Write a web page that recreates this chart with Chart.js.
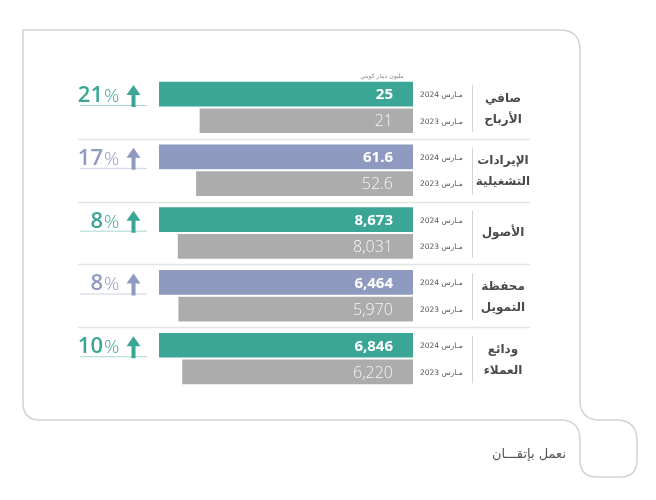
<!DOCTYPE html>
<html lang="ar">
<head>
<meta charset="utf-8">
<script src="https://cdn.jsdelivr.net/npm/chart.js@4.4.1/dist/chart.umd.min.js"></script>
<style>
html, body { margin: 0; padding: 0; background: #ffffff; overflow: hidden; }
#wrap { position: relative; width: 656px; height: 500px; }
</style>
</head>
<body>
<div id="wrap"><canvas id="kpiChart" width="656" height="500"></canvas></div>
<script>
// Data
const groups = [['صافي', 'الأرباح'], ['الإيرادات', 'التشغيلية'], ['الأصول'], ['محفظة', 'التمويل'], ['ودائع', 'العملاء']];
const values2024 = [25, 61.6, 8673, 6464, 6846];
const values2023 = [21, 52.6, 8031, 5970, 6220];
const changes = [21, 17, 8, 8, 10];
const periods = ['مـارس 2024', 'مـارس 2023'];
const unitLabel = 'مليون دينار كويتي';
const tagline = 'نعمل بإتقـــان';

const TEAL = '#3ba696';
const PURPLE = '#8e9abf';
const GRAY = '#acacac';
const ARABIC = '"DejaVu Sans", sans-serif';
const LATIN = '"Open Sans", "Noto Sans", sans-serif';

function fmt(v) {
    return v.toLocaleString('en-US', { maximumFractionDigits: 1 });
}

function accentFor(i) {
    return i % 2 === 0 ? TEAL : PURPLE;
}

// one pair of bars per group, each group on its own hidden scale
const datasets = [];
const scales = {
    y: { type: 'category', display: false, grid: { display: false } }
};
groups.forEach((g, i) => {
    [values2024, values2023].forEach((vals, k) => {
        datasets.push({
            label: periods[k],
            data: groups.map((_, j) => (j === i ? vals[i] : null)),
            backgroundColor: k === 0 ? accentFor(i) : GRAY,
            borderWidth: 0,
            xAxisID: 'x' + i,
            skipNull: true,
            categoryPercentage: 0.85,
            barPercentage: 0.925
        });
    });
    scales['x' + i] = {
        type: 'linear',
        display: false,
        reverse: true,
        min: 0,
        max: values2024[i],
        grid: { display: false }
    };
});

function drawFrame(ctx) {
    ctx.save();
    ctx.strokeStyle = '#d2d2d2';
    ctx.lineWidth = 1.5;
    ctx.beginPath();
    ctx.moveTo(23, 30);
    ctx.lineTo(560, 30);
    ctx.quadraticCurveTo(580, 30, 580, 50);
    ctx.lineTo(580, 400);
    ctx.quadraticCurveTo(580, 420, 600, 420);
    ctx.lineTo(616, 420);
    ctx.quadraticCurveTo(637, 420, 637, 441);
    ctx.lineTo(637, 460);
    ctx.quadraticCurveTo(637, 477, 620, 477);
    ctx.lineTo(597, 477);
    ctx.quadraticCurveTo(580, 477, 580, 460);
    ctx.lineTo(580, 440);
    ctx.quadraticCurveTo(580, 420, 560, 420);
    ctx.lineTo(40, 420);
    ctx.quadraticCurveTo(23, 420, 23, 403);
    ctx.closePath();
    ctx.stroke();
    ctx.restore();
}

const decorPlugin = {
    id: 'decor',
    beforeDatasetsDraw(chart) {
        const ctx = chart.ctx;
        drawFrame(ctx);

        ctx.save();
        groups.forEach((g, i) => {
            const top = chart.getDatasetMeta(2 * i).data[i];
            const bottom = chart.getDatasetMeta(2 * i + 1).data[i];
            const topEdge = top.y - top.height / 2;
            const bottomEdge = bottom.y + bottom.height / 2;

            // vertical rule beside the group name
            ctx.strokeStyle = '#d4d4d4';
            ctx.lineWidth = 1;
            ctx.beginPath();
            ctx.moveTo(472.5, topEdge + 3);
            ctx.lineTo(472.5, bottomEdge - 1);
            ctx.stroke();

            // horizontal rule between groups
            if (i < groups.length - 1) {
                const next = chart.getDatasetMeta(2 * i + 2).data[i + 1];
                const y = Math.round((bottomEdge + next.y - next.height / 2) / 2) + 0.5;
                ctx.strokeStyle = '#e4e4e4';
                ctx.lineWidth = 1.5;
                ctx.beginPath();
                ctx.moveTo(78, y);
                ctx.lineTo(530, y);
                ctx.stroke();
            }
        });
        ctx.restore();
    },
    afterDatasetsDraw(chart) {
        const ctx = chart.ctx;
        ctx.save();

        // unit caption
        ctx.direction = 'rtl';
        ctx.textAlign = 'center';
        ctx.textBaseline = 'middle';
        ctx.fillStyle = '#8a8a8a';
        ctx.font = '6px ' + ARABIC;
        ctx.fillText(unitLabel, 382, 76);

        groups.forEach((g, i) => {
            const accent = accentFor(i);
            const rows = [chart.getDatasetMeta(2 * i).data[i], chart.getDatasetMeta(2 * i + 1).data[i]];
            const vals = [values2024[i], values2023[i]];

            rows.forEach((el, k) => {
                // value inside the bar
                ctx.direction = 'ltr';
                ctx.textAlign = 'right';
                ctx.textBaseline = 'middle';
                ctx.fillStyle = k === 0 ? '#ffffff' : '#f6f6f6';
                ctx.font = (k === 0 ? '700 15px ' : '300 16px ') + LATIN;
                ctx.fillText(fmt(vals[k]), el.base - 20, el.y + 1);

                // period label
                ctx.direction = 'rtl';
                ctx.textAlign = 'left';
                ctx.fillStyle = '#555555';
                ctx.font = '7.5px ' + ARABIC;
                ctx.fillText(periods[k], 420, el.y + 1);
            });

            // group name
            const mid = (rows[0].y + rows[1].y) / 2;
            ctx.direction = 'rtl';
            ctx.textAlign = 'center';
            ctx.textBaseline = 'middle';
            ctx.fillStyle = '#4a4a4a';
            ctx.font = '700 12px ' + ARABIC;
            if (g.length === 1) {
                ctx.fillText(g[0], 503, mid);
            } else {
                ctx.fillText(g[0], 503, mid - 9);
                ctx.fillText(g[1], 503, mid + 12);
            }

            // change with arrow
            const y = rows[0].y;
            ctx.direction = 'ltr';
            ctx.textBaseline = 'alphabetic';
            ctx.fillStyle = accent;
            ctx.textAlign = 'right';
            ctx.font = '600 22px ' + LATIN;
            ctx.fillText(String(changes[i]), 103, y + 8);
            ctx.textAlign = 'left';
            ctx.font = '300 19px ' + LATIN;
            ctx.fillText('%', 104, y + 8);

            ctx.strokeStyle = accent;
            ctx.globalAlpha = 0.45;
            ctx.lineWidth = 1;
            ctx.beginPath();
            ctx.moveTo(80, y + 11.5);
            ctx.lineTo(147, y + 11.5);
            ctx.stroke();
            ctx.globalAlpha = 1;

            const ax = 133.5;
            ctx.beginPath();
            ctx.moveTo(ax, y - 9);
            ctx.lineTo(ax + 7, y + 1);
            ctx.lineTo(ax + 2, y + 1);
            ctx.lineTo(ax + 2, y + 13);
            ctx.lineTo(ax - 2, y + 13);
            ctx.lineTo(ax - 2, y + 1);
            ctx.lineTo(ax - 7, y + 1);
            ctx.closePath();
            ctx.fill();
        });

        // tagline
        ctx.direction = 'rtl';
        ctx.textAlign = 'right';
        ctx.textBaseline = 'middle';
        ctx.fillStyle = '#555555';
        ctx.font = '13px ' + ARABIC;
        ctx.fillText(tagline, 566, 455);

        ctx.restore();
    }
};

new Chart(document.getElementById('kpiChart'), {
    type: 'bar',
    data: {
        labels: groups.map(g => g.join(' ')),
        datasets: datasets
    },
    options: {
        indexAxis: 'y',
        responsive: false,
        animation: false,
        layout: {
            padding: { left: 159, right: 243, top: 76, bottom: 110 }
        },
        plugins: {
            legend: { display: false },
            tooltip: { enabled: false }
        },
        scales: scales
    },
    plugins: [decorPlugin]
});
</script>
</body>
</html>
